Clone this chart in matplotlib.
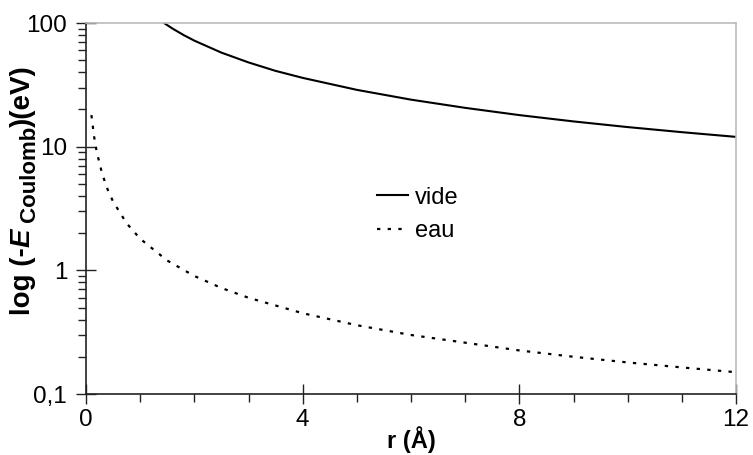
import matplotlib
matplotlib.use("Agg")
import matplotlib.pyplot as plt
from matplotlib.transforms import IdentityTransform
from matplotlib.ticker import FixedLocator, MultipleLocator, LogLocator, FuncFormatter, NullFormatter

plt.rcParams["font.family"] = ["Liberation Sans", "DejaVu Sans"]

# values (r in Angstrom, -E in eV)
r_vide = [1.44, 1.6, 1.8, 2.0, 2.5, 3.0, 3.5, 4.0, 5.0, 6.0, 7.0, 8.0, 9.0, 10.0, 11.0, 12.0]
e_vide = [100, 90, 80, 72, 57.6, 48, 41, 36, 28.8, 24, 20.6, 18, 16, 14.4, 13.1, 12]
r_eau = [0.1, 0.15, 0.2, 0.3, 0.4, 0.5, 0.75, 1.0, 1.5, 2.0, 2.5, 3.0, 4.0, 5.0, 6.0, 7.0, 8.0, 9.0, 10.0, 11.0, 12.0]
e_eau = [18, 12, 9, 6, 4.5, 3.6, 2.4, 1.8, 1.2, 0.9, 0.72, 0.6, 0.45, 0.36, 0.3, 0.26, 0.225, 0.2, 0.18, 0.164, 0.15]
x_ticks = [0, 4, 8, 12]
y_ticks = [0.1, 1, 10, 100]
y_ticklabels = ["0,1", "1", "10", "100"]

W, H = 753, 455
fig = plt.figure(figsize=(W / 100, H / 100), dpi=100)
ax = fig.add_axes([86 / W, 1 - 394 / H, 650 / W, 371 / H])

ax.plot(r_vide, e_vide, "-", color="black", lw=1.5, label="vide")
ax.plot(r_eau, e_eau, color="black", lw=1.6, ls=(0, (1.5, 3.3)), label="eau")

ax.set_yscale("log")
ax.set_xlim(0, 12); ax.set_ylim(0.1, 100)
ax.xaxis.set_major_locator(FixedLocator(x_ticks))
ax.xaxis.set_minor_locator(MultipleLocator(1))
ax.yaxis.set_major_locator(FixedLocator(y_ticks))
ax.yaxis.set_major_formatter(FuncFormatter(lambda v, p: y_ticklabels[p] if p is not None else ""))
ax.yaxis.set_minor_locator(LogLocator(base=10, subs=range(2, 10)))
ax.yaxis.set_minor_formatter(NullFormatter())

ax.tick_params(which="major", direction="inout", length=15, width=1, labelsize=17.5, color="#222222")
ax.tick_params(which="minor", direction="out", length=5.5, width=1, color="#222222")
ax.tick_params(axis="x", which="major", pad=3)
ax.tick_params(axis="y", which="major", pad=6)
ax.tick_params(top=False, right=False, which="both")

for s in ["left", "bottom"]:
    ax.spines[s].set_color("#222222"); ax.spines[s].set_linewidth(1.2)
for s in ["top", "right"]:
    ax.spines[s].set_color("#bbbbbb"); ax.spines[s].set_linewidth(1.2)

ax.set_xlabel("r (Å)", fontsize=17, fontweight="bold", labelpad=-3)

# y label built from pieces so the subscript can be sized freely
pieces = [("log (-", 20, "normal", 0), ("E", 20, "italic", 0),
          (" Coulomb", 16, "normal", 6), (")(eV)", 20, "normal", 0)]
rend = fig.canvas.get_renderer()
texts, y = [], 0.0
for txt, size, style, shift in pieces:
    t = fig.text(30 + shift, y, txt, rotation=90, rotation_mode="anchor", ha="left",
                 va="baseline", fontsize=size, fontweight="bold", fontstyle=style,
                 transform=IdentityTransform())
    texts.append(t)
    y += t.get_window_extent(rend).height
y0 = (H - 190) - y / 2
for t in texts:
    px, py = t.get_position()
    t.set_position((px, py + y0))

ax.legend(loc="center left", bbox_to_anchor=(0.415, 0.484), frameon=False, fontsize=17,
          handlelength=1.3, handletextpad=0.3, labelspacing=0.5)

fig.savefig("out.png", dpi=100)
